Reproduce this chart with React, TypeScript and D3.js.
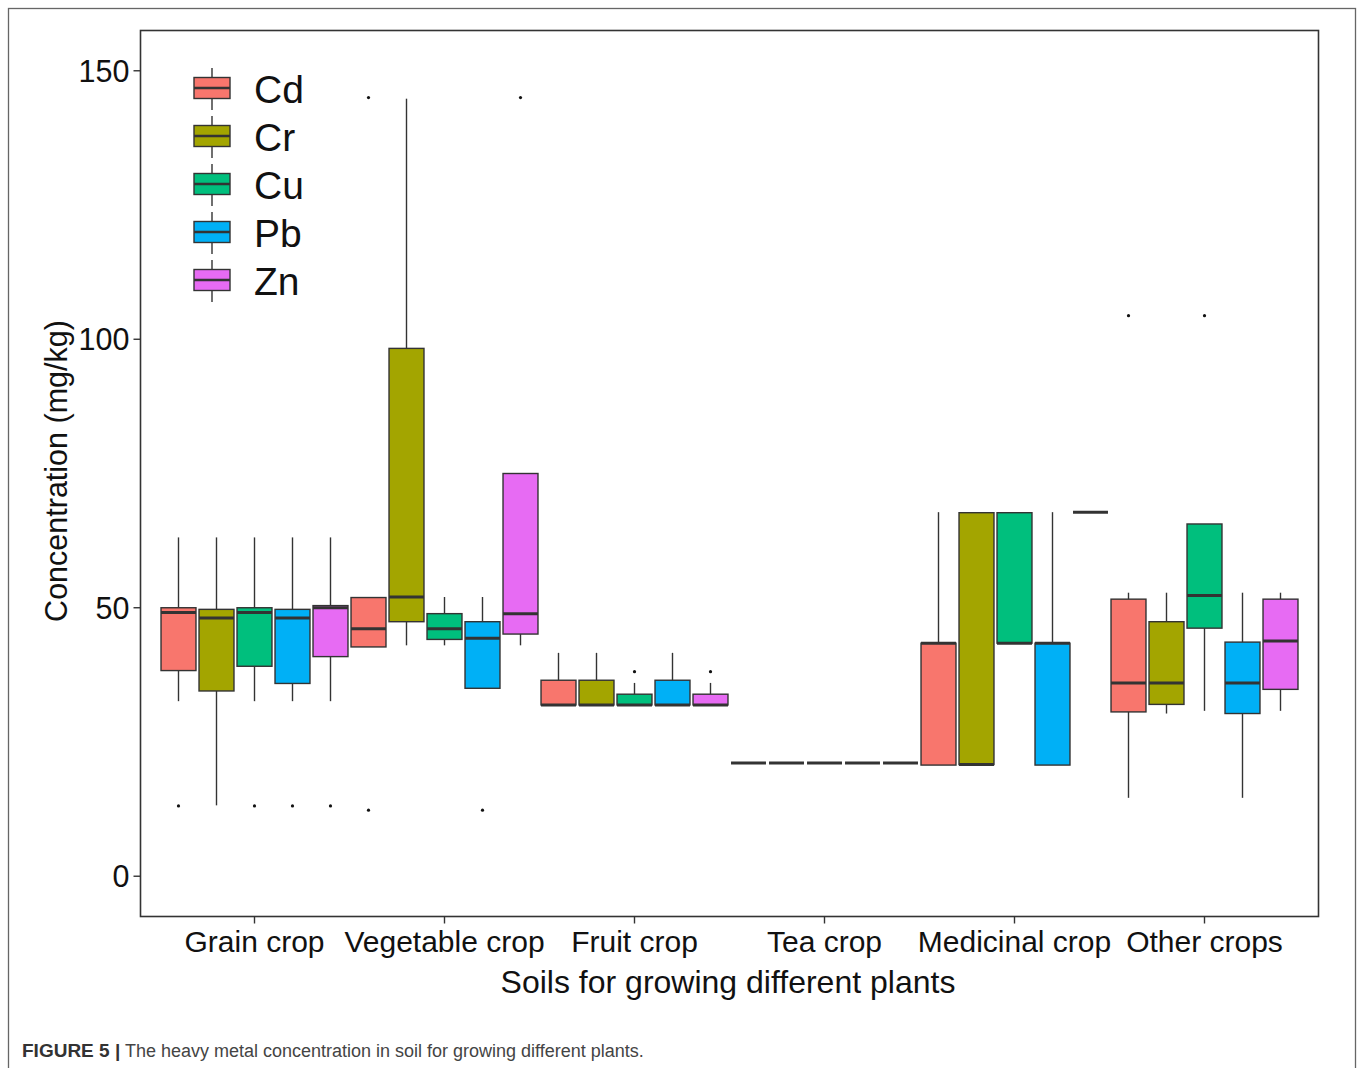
import React from "react";
import * as d3 from "d3";

// Soil categories on the x axis
const crops = [
  "Grain crop",
  "Vegetable crop",
  "Fruit crop",
  "Tea crop",
  "Medicinal crop",
  "Other crops",
];

const metals = ["Cd", "Cr", "Cu", "Pb", "Zn"];
const metalColors = ["#F8766D", "#A3A500", "#00BF7D", "#00B0F6", "#E76BF3"];

// Box summaries per crop: [lower whisker, Q1, median, Q3, upper whisker] (mg/kg)
const cdStats = [
  [32.6, 38.3, 49.1, 50.0, 63.1],
  [42.7, 42.7, 46.1, 51.9, 51.9],
  [31.9, 31.9, 31.9, 36.5, 41.6],
  [21.1, 21.1, 21.1, 21.1, 21.1],
  [20.7, 20.7, 43.4, 43.4, 67.8],
  [14.6, 30.6, 36.0, 51.6, 52.8],
];
const crStats = [
  [13.2, 34.5, 48.1, 49.7, 63.1],
  [43.0, 47.4, 52.0, 98.3, 144.8],
  [31.9, 31.9, 31.9, 36.5, 41.6],
  [21.1, 21.1, 21.1, 21.1, 21.1],
  [20.8, 20.8, 20.8, 67.7, 67.7],
  [30.3, 32.0, 36.0, 47.4, 52.8],
];
const cuStats = [
  [32.6, 39.1, 49.1, 50.0, 63.1],
  [43.0, 44.1, 46.1, 48.9, 52.0],
  [31.9, 31.9, 31.9, 33.9, 36.0],
  [21.1, 21.1, 21.1, 21.1, 21.1],
  [43.4, 43.4, 43.4, 67.7, 67.7],
  [30.8, 46.2, 52.3, 65.6, 65.6],
];
const pbStats = [
  [32.6, 35.9, 48.1, 49.7, 63.1],
  [35.0, 35.0, 44.3, 47.4, 52.0],
  [31.9, 31.9, 31.9, 36.5, 41.6],
  [21.1, 21.1, 21.1, 21.1, 21.1],
  [20.7, 20.7, 43.4, 43.4, 67.8],
  [14.6, 30.3, 36.0, 43.6, 52.8],
];
const znStats = [
  [32.6, 40.9, 50.0, 50.4, 63.1],
  [43.0, 45.1, 48.9, 75.0, 75.0],
  [31.9, 31.9, 31.9, 33.9, 36.0],
  [21.1, 21.1, 21.1, 21.1, 21.1],
  [67.8, 67.8, 67.8, 67.8, 67.8],
  [30.8, 34.8, 43.8, 51.6, 52.8],
];

// Outliers per metal: [crop index, value]
const cdOutliers = [[0, 13.1], [1, 145.0], [1, 12.3], [5, 104.4]];
const crOutliers: number[][] = [];
const cuOutliers = [[0, 13.1], [2, 38.1], [5, 104.4]];
const pbOutliers = [[0, 13.1], [1, 12.3]];
const znOutliers = [[0, 13.1], [1, 145.0], [2, 38.1]];

const yTicks = [0, 50, 100, 150];

const FONT = "'Liberation Sans', Arial, Helvetica, sans-serif";

export default function App() {
  const W = 1358;
  const H = 1068;

  const stats = [cdStats, crStats, cuStats, pbStats, znStats];
  const outliers = [cdOutliers, crOutliers, cuOutliers, pbOutliers, znOutliers];

  const x = d3.scalePoint<string>().domain(crops).range([140.5, 1318.5]).padding(0.6);
  const dodge = d3.scaleBand<string>().domain(metals).range([-x.step() / 2, x.step() / 2]);
  const boxW = dodge.bandwidth() * 0.92;
  const y = d3.scaleLinear().domain([-7.5, 157.5]).range([916.5, 30.5]);

  const panelL = x.range()[0];
  const panelR = x.range()[1];
  const panelT = y(157.5);
  const panelB = y(-7.5);

  const cx = (ci: number, mi: number) =>
    (x(crops[ci]) as number) + (dodge(metals[mi]) as number) + dodge.bandwidth() / 2;

  const stroke = "#333333";

  return (
    <div style={{ position: "absolute", left: 0, top: 0 }}>
      <svg width={W} height={H} style={{ display: "block", background: "#ffffff" }} fontFamily={FONT}>
        {/* outer figure frame */}
        <rect x={8.5} y={8.5} width={1347} height={1080} fill="none" stroke="#666" strokeWidth={1.3} />

        {/* boxes */}
        {stats.map((rows, mi) =>
          rows.map((s, ci) => {
            const c = cx(ci, mi);
            const [lo, q1, med, q3, hi] = s;
            return (
              <g key={`b-${mi}-${ci}`}>
                {hi > q3 && <line x1={c} x2={c} y1={y(q3)} y2={y(hi)} stroke={stroke} strokeWidth={1.4} />}
                {lo < q1 && <line x1={c} x2={c} y1={y(q1)} y2={y(lo)} stroke={stroke} strokeWidth={1.4} />}
                <rect
                  x={c - boxW / 2}
                  y={y(q3)}
                  width={boxW}
                  height={Math.max(0, y(q1) - y(q3))}
                  fill={metalColors[mi]}
                  stroke={stroke}
                  strokeWidth={1.4}
                />
                <line x1={c - boxW / 2} x2={c + boxW / 2} y1={y(med)} y2={y(med)} stroke={stroke} strokeWidth={3} />
              </g>
            );
          })
        )}

        {/* outliers */}
        {outliers.map((pts, mi) =>
          pts.map(([ci, v], k) => (
            <circle key={`o-${mi}-${k}`} cx={cx(ci, mi)} cy={y(v)} r={1.6} fill="#111" />
          ))
        )}

        {/* panel border */}
        <rect
          x={panelL}
          y={panelT}
          width={panelR - panelL}
          height={panelB - panelT}
          fill="none"
          stroke={stroke}
          strokeWidth={1.6}
        />

        {/* y axis */}
        {yTicks.map((t) => (
          <g key={`yt-${t}`}>
            <line x1={panelL - 7} x2={panelL} y1={y(t)} y2={y(t)} stroke={stroke} strokeWidth={1.4} />
            <text x={panelL - 11} y={y(t)} dy="0.36em" textAnchor="end" fontSize={30.5} fill="#111">
              {t}
            </text>
          </g>
        ))}

        {/* x axis */}
        {crops.map((c) => (
          <g key={`xt-${c}`}>
            <line x1={x(c)} x2={x(c)} y1={panelB} y2={panelB + 7} stroke={stroke} strokeWidth={1.4} />
            <text x={x(c)} y={952} textAnchor="middle" fontSize={30} fill="#111">
              {c}
            </text>
          </g>
        ))}

        {/* axis titles */}
        <text x={728} y={993} textAnchor="middle" fontSize={32} fill="#111">
          Soils for growing different plants
        </text>
        <text
          transform={`translate(67, 471) rotate(-90)`}
          textAnchor="middle"
          fontSize={30.5}
          fill="#111"
        >
          Concentration (mg/kg)
        </text>

        {/* legend */}
        {metals.map((m, i) => {
          const ky = 88 + i * 48;
          const kx = 212;
          return (
            <g key={`lg-${m}`}>
              <line x1={kx} x2={kx} y1={ky - 20} y2={ky + 22} stroke={stroke} strokeWidth={1.4} />
              <rect x={kx - 18} y={ky - 10.5} width={36} height={21} fill={metalColors[i]} stroke={stroke} strokeWidth={1.4} />
              <line x1={kx - 18} x2={kx + 18} y1={ky} y2={ky} stroke={stroke} strokeWidth={2.4} />
              <text x={254} y={ky + 15} fontSize={39} fill="#111">
                {m}
              </text>
            </g>
          );
        })}

        {/* caption */}
        <text x={22} y={1057} fill="#333">
          <tspan fontWeight="bold" fontSize={19}>FIGURE 5 |</tspan>
          <tspan fill="#444" fontSize={18}> The heavy metal concentration in soil for growing different plants.</tspan>
        </text>
      </svg>
    </div>
  );
}
